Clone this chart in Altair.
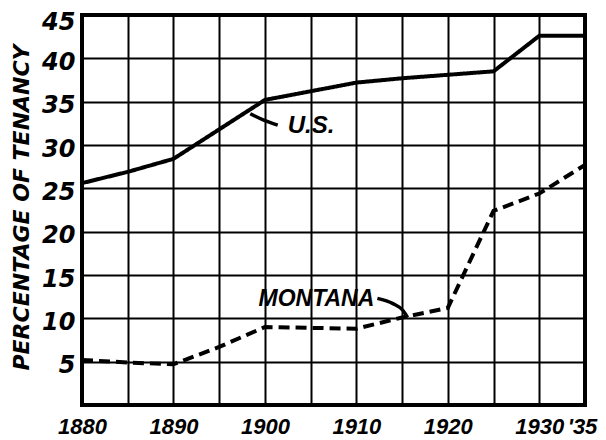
import altair as alt
import pandas as pd

years = [1880, 1885, 1890, 1895, 1900, 1905, 1910, 1915, 1920, 1925, 1930, 1935]
us = [25.6, 26.9, 28.4, 31.8, 35.2, 36.2, 37.2, 37.7, 38.1, 38.5, 42.6, 42.6]
montana = [5.2, 4.9, 4.7, 6.7, 9.0, 8.9, 8.8, 10.1, 11.2, 22.4, 24.4, 27.7]

label_text = ["U.S.", "MONTANA"]
label_x = [1902.5, 1899.3]
label_y = [32.2, 12.2]
label_size = [24, 23]

us_leader_x = [1898.4, 1899.8, 1901.4]
us_leader_y = [33.6, 32.9, 32.3]
mt_leader_x = [1912.3, 1914.0, 1915.1, 1915.6]
mt_leader_y = [12.3, 11.7, 10.9, 10.1]

df = pd.DataFrame({
    "year": years * 2,
    "pct": us + montana,
    "series": ["U.S."] * len(years) + ["MONTANA"] * len(years),
})
labels = pd.DataFrame({"text": label_text, "x": label_x, "y": label_y, "size": label_size})
leaders = pd.DataFrame({
    "x": us_leader_x + mt_leader_x,
    "y": us_leader_y + mt_leader_y,
    "id": ["us"] * len(us_leader_x) + ["mt"] * len(mt_leader_x),
    "order": list(range(len(us_leader_x))) + list(range(len(mt_leader_x))),
})

xscale = alt.Scale(domain=[1880, 1935], nice=False, zero=False)
yscale = alt.Scale(domain=[0, 45], nice=False)

xaxis = alt.Axis(
    values=list(range(1880, 1936, 5)),
    format="d",
    labelExpr="datum.value == 1935 ? \"'35\" : (datum.value % 10 == 0 ? datum.label : '')",
    labelOffset={"condition": {"test": "datum.value == 1935", "value": -3}, "value": 0},
    grid=True, gridColor="black", gridWidth=2, gridOpacity=1,
    ticks=False, domain=False,
    labelFont="Liberation Sans", labelFontSize=22, labelFontWeight="bold",
    labelFontStyle="italic", labelColor="black", labelPadding=11,
    labelOverlap=False, labelFlush=False, labelBound=False, title=None,
)
yaxis = alt.Axis(
    values=list(range(0, 46, 5)),
    format="d",
    labelExpr="datum.value == 0 ? '' : datum.label",
    labelOffset={"condition": {"test": "datum.value == 45", "value": 7}, "value": 4},
    grid=True, gridColor="black", gridWidth=2, gridOpacity=1,
    ticks=False, domain=False,
    labelFont="DejaVu Sans", labelFontSize=24, labelFontWeight="bold",
    labelFontStyle="italic", labelColor="black", labelPadding=7,
    labelOverlap=False, labelFlush=False, labelBound=False,
    title="PERCENTAGE OF TENANCY",
    titleFont="DejaVu Sans", titleFontSize=22, titleFontWeight="bold",
    titleFontStyle="italic", titleColor="black",
    titleAngle=270, titleX=-54, titleY=192, titleAlign="center", titleBaseline="alphabetic",
)

lines = alt.Chart(df).mark_line(color="black", strokeWidth=4).encode(
    x=alt.X("year:Q", scale=xscale, axis=xaxis),
    y=alt.Y("pct:Q", scale=yscale, axis=yaxis),
    strokeDash=alt.StrokeDash(
        "series:N",
        scale=alt.Scale(domain=["U.S.", "MONTANA"], range=[[1, 0], [11, 6]]),
        legend=None,
    ),
    strokeWidth=alt.StrokeWidth(
        "series:N",
        scale=alt.Scale(domain=["U.S.", "MONTANA"], range=[4.5, 3.5]),
        legend=None,
    ),
)

leader = alt.Chart(leaders).mark_line(color="black", strokeWidth=3.5, interpolate="monotone").encode(
    x=alt.X("x:Q", scale=xscale),
    y=alt.Y("y:Q", scale=yscale),
    detail="id:N",
    order="order:Q",
)

text = alt.Chart(labels).mark_text(
    align="left", baseline="middle", font="Liberation Sans",
    fontWeight="bold", fontStyle="italic", color="black",
).encode(
    x=alt.X("x:Q", scale=xscale),
    y=alt.Y("y:Q", scale=yscale),
    text="text:N",
    size=alt.Size("size:Q", scale=None, legend=None),
)

chart = alt.layer(lines, leader, text).properties(
    width=503, height=390,
    autosize=alt.AutoSizeParams(type="none"),
    padding={"left": 74, "top": 7, "right": 13, "bottom": 33},
    background="white",
).configure_view(stroke="black", strokeWidth=4)

chart.save("out.html", embed_options={"renderer": "svg", "actions": False})
